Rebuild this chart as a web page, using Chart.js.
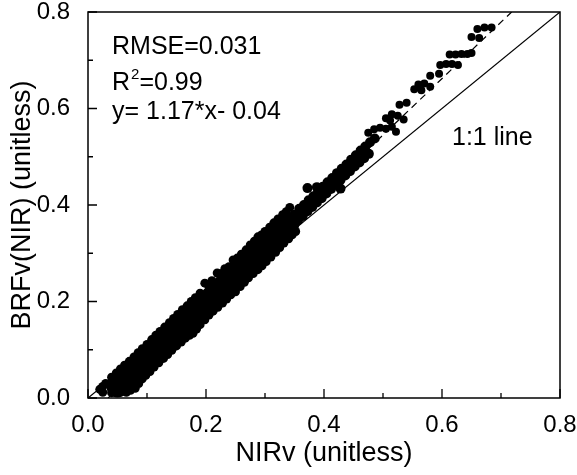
<!DOCTYPE html>
<html>
<head>
<meta charset="utf-8">
<script src="https://cdn.jsdelivr.net/npm/chart.js@4.4.0/dist/chart.umd.min.js"></script>
<style>
  html, body { margin: 0; padding: 0; background: #fff; }
  #wrap { width: 577px; height: 475px; }
</style>
</head>
<body>
<div id="wrap"><canvas id="scatter-chart"></canvas></div>
<script>
// dense middle of the cloud
var coreX = [0.05, 0.06, 0.07, 0.08, 0.09, 0.10, 0.11, 0.12, 0.13, 0.14, 0.15, 0.16, 0.17, 0.18, 0.19,
             0.20, 0.21, 0.22, 0.23, 0.24, 0.25, 0.26, 0.27, 0.28, 0.29, 0.30, 0.31, 0.32, 0.33, 0.34];
var coreY = [0.024, 0.033, 0.046, 0.056, 0.069, 0.080, 0.093, 0.103, 0.116, 0.127, 0.140, 0.150, 0.163, 0.175, 0.186,
             0.199, 0.210, 0.221, 0.233, 0.245, 0.256, 0.268, 0.280, 0.290, 0.303, 0.314, 0.326, 0.338, 0.350, 0.362];

// upper (left) edge of the cloud
var upperX = [0.02, 0.03, 0.04, 0.055, 0.07, 0.085, 0.10, 0.115, 0.13, 0.145, 0.16, 0.175, 0.19, 0.198, 0.21,
              0.219, 0.232, 0.246, 0.26, 0.275, 0.288, 0.30, 0.315, 0.33, 0.342,
              0.025, 0.048, 0.062, 0.078, 0.092, 0.108, 0.122, 0.138, 0.152, 0.168, 0.182, 0.205, 0.226,
              0.239, 0.253, 0.268, 0.282, 0.294, 0.308, 0.322, 0.336];
var upperY = [0.018, 0.030, 0.043, 0.060, 0.076, 0.094, 0.111, 0.130, 0.147, 0.165, 0.183, 0.200, 0.217, 0.238, 0.243,
              0.259, 0.268, 0.286, 0.298, 0.317, 0.334, 0.345, 0.363, 0.380, 0.395,
              0.024, 0.052, 0.068, 0.085, 0.102, 0.121, 0.138, 0.156, 0.173, 0.191, 0.208, 0.232, 0.258,
              0.272, 0.290, 0.307, 0.325, 0.338, 0.354, 0.371, 0.386];

// lower (right) edge of the cloud
var lowerX = [0.025, 0.04, 0.052, 0.065, 0.08, 0.092, 0.105, 0.12, 0.135, 0.15, 0.165, 0.178, 0.19, 0.205, 0.22,
              0.235, 0.25, 0.265, 0.28, 0.295, 0.31, 0.325, 0.34, 0.352,
              0.072, 0.086, 0.098, 0.112, 0.128, 0.142, 0.158, 0.172, 0.184, 0.198, 0.212, 0.228, 0.242,
              0.258, 0.272, 0.288, 0.302, 0.318, 0.332, 0.346];
var lowerY = [0.012, 0.011, 0.013, 0.012, 0.020, 0.040, 0.055, 0.073, 0.090, 0.108, 0.124, 0.134, 0.152, 0.172, 0.188,
              0.205, 0.220, 0.240, 0.258, 0.274, 0.292, 0.312, 0.330, 0.345,
              0.016, 0.030, 0.047, 0.064, 0.082, 0.099, 0.116, 0.130, 0.143, 0.162, 0.180, 0.197, 0.214,
              0.231, 0.249, 0.266, 0.283, 0.302, 0.321, 0.338];

// narrower band above 0.35
var tailX = [0.35, 0.358, 0.366, 0.374, 0.382, 0.39, 0.398, 0.406, 0.414, 0.422, 0.43, 0.438, 0.446, 0.454,
             0.462, 0.47, 0.478, 0.486,
             0.356, 0.364, 0.372, 0.38, 0.388, 0.396, 0.404, 0.412, 0.42, 0.428, 0.436, 0.444, 0.452, 0.46,
             0.468, 0.476,
             0.372, 0.388, 0.428];
var tailY = [0.380, 0.392, 0.400, 0.410, 0.418, 0.428, 0.438, 0.447, 0.456, 0.466, 0.475, 0.484, 0.494, 0.503,
             0.513, 0.521, 0.530, 0.538,
             0.368, 0.377, 0.387, 0.396, 0.405, 0.414, 0.424, 0.433, 0.442, 0.452, 0.461, 0.470, 0.480, 0.488,
             0.497, 0.506,
             0.435, 0.437, 0.434];

// separate clumps at the top end
var clumpX = [0.475, 0.485, 0.495, 0.505, 0.515, 0.522, 0.505, 0.515, 0.525, 0.535, 0.512,
              0.528, 0.54, 0.553, 0.56, 0.57, 0.58, 0.565, 0.58, 0.595,
              0.597, 0.607, 0.617, 0.627, 0.613, 0.623, 0.633, 0.643, 0.65,
              0.65, 0.663, 0.66, 0.672, 0.684];
var clumpY = [0.55, 0.557, 0.56, 0.558, 0.562, 0.552, 0.58, 0.588, 0.585, 0.577, 0.575,
              0.608, 0.612, 0.64, 0.65, 0.652, 0.645, 0.638, 0.668, 0.672,
              0.69, 0.692, 0.692, 0.69, 0.712, 0.712, 0.713, 0.713, 0.715,
              0.748, 0.746, 0.765, 0.768, 0.768];

// reference lines
var oneX = [0, 0.8];
var oneY = [0, 0.8];
var fitX = [0.034, 0.718];
var fitY = [0, 0.8];

var majorTicks = [0, 0.2, 0.4, 0.6, 0.8];
var minorTicks = [0.1, 0.3, 0.5, 0.7];

var FONT = "'Liberation Sans', Arial, sans-serif";

function pts(xs, ys) {
    return xs.map(function (v, i) { return { x: v, y: ys[i] }; });
}

function dots(data, r) {
    return {
        data: data,
        backgroundColor: '#000',
        borderWidth: 0,
        pointRadius: r,
        order: 1
    };
}

// box, inward tick marks and the text inside the plot
var framePlugin = {
    id: 'framePlugin',
    afterDraw: function (chart) {
        var ctx = chart.ctx;
        var a = chart.chartArea;
        var xs = chart.scales.x, ys = chart.scales.y;
        ctx.save();
        ctx.strokeStyle = '#000';
        ctx.lineWidth = 1.5;
        ctx.strokeRect(a.left, a.top, a.right - a.left, a.bottom - a.top);

        ctx.lineWidth = 1.3;
        ctx.beginPath();
        majorTicks.forEach(function (v) {
            var px = xs.getPixelForValue(v), py = ys.getPixelForValue(v);
            ctx.moveTo(px, a.bottom); ctx.lineTo(px, a.bottom - 9);
            ctx.moveTo(a.left, py); ctx.lineTo(a.left + 9, py);
        });
        minorTicks.forEach(function (v) {
            var px = xs.getPixelForValue(v), py = ys.getPixelForValue(v);
            ctx.moveTo(px, a.bottom); ctx.lineTo(px, a.bottom - 5);
            ctx.moveTo(a.left, py); ctx.lineTo(a.left + 5, py);
        });
        ctx.stroke();

        ctx.fillStyle = '#000';
        ctx.textBaseline = 'alphabetic';
        ctx.textAlign = 'left';
        ctx.font = '25px ' + FONT;
        var tx = a.left + 24;
        ctx.fillText('RMSE=0.031', tx, 54);
        ctx.fillText('R', tx, 90);
        var rw = ctx.measureText('R').width;
        ctx.font = '15px ' + FONT;
        ctx.fillText('2', tx + rw + 1, 79);
        var sw = ctx.measureText('2').width;
        ctx.font = '25px ' + FONT;
        ctx.fillText('=0.99', tx + rw + sw + 1, 90);
        ctx.fillText('y= 1.17*x- 0.04', tx, 119);
        ctx.fillText('1:1 line', 452, 145);
        ctx.restore();
    }
};

var ctx = document.getElementById('scatter-chart');
var myChart = new Chart(ctx, {
    type: 'scatter',
    data: {
        datasets: [
            dots(pts(coreX, coreY), 11),
            dots(pts(upperX, upperY), 4.5),
            dots(pts(lowerX, lowerY), 4.5),
            dots(pts(tailX, tailY), 5),
            dots(pts(clumpX, clumpY), 4),
            {
                data: pts(oneX, oneY),
                showLine: true,
                borderColor: '#000',
                borderWidth: 1.2,
                pointRadius: 0,
                order: 2
            },
            {
                data: pts(fitX, fitY),
                showLine: true,
                borderColor: '#000',
                borderWidth: 1.2,
                borderDash: [7, 5],
                pointRadius: 0,
                order: 2
            }
        ]
    },
    options: {
        responsive: true,
        maintainAspectRatio: false,
        animation: false,
        layout: { padding: { top: 12, right: 17, left: 0, bottom: 0 } },
        plugins: {
            legend: { display: false },
            tooltip: { enabled: false }
        },
        scales: {
            x: {
                type: 'linear',
                min: 0,
                max: 0.8,
                grid: { display: false },
                border: { display: false },
                ticks: {
                    stepSize: 0.2,
                    maxRotation: 0,
                    color: '#000',
                    padding: 7,
                    font: { family: FONT, size: 24, lineHeight: 1 },
                    callback: function (v) { return v.toFixed(1); }
                },
                title: {
                    display: true,
                    text: 'NIRv (unitless)',
                    color: '#000',
                    font: { family: FONT, size: 27, lineHeight: 1 },
                    padding: { top: 0, bottom: 8 }
                },
                afterFit: function (s) { s.height = 77; s.paddingLeft = 0; s.paddingRight = 0; }
            },
            y: {
                type: 'linear',
                min: 0,
                max: 0.8,
                grid: { display: false },
                border: { display: false },
                ticks: {
                    stepSize: 0.2,
                    color: '#000',
                    padding: 10,
                    font: { family: FONT, size: 24, lineHeight: 1 },
                    callback: function (v) { return v.toFixed(1); }
                },
                title: {
                    display: true,
                    text: 'BRFv(NIR) (unitless)',
                    color: '#000',
                    font: { family: FONT, size: 27, lineHeight: 1 },
                    padding: { top: 9, bottom: 0 }
                },
                afterFit: function (s) { s.width = 88; s.paddingTop = 0; s.paddingBottom = 0; }
            }
        }
    },
    plugins: [framePlugin]
});
</script>
</body>
</html>
